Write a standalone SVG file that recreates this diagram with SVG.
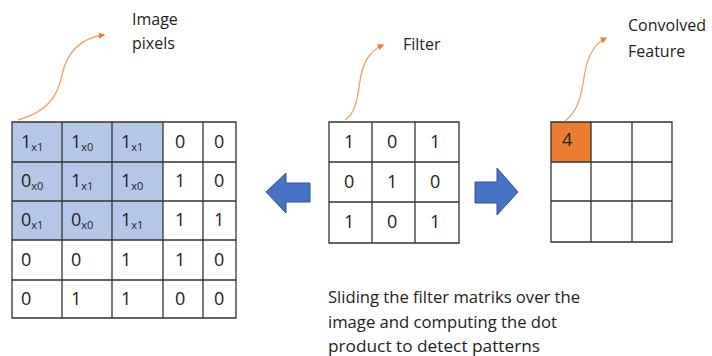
<svg xmlns="http://www.w3.org/2000/svg" width="712" height="356" viewBox="0 0 712 356">
<defs>
<marker id="oh" viewBox="0 0 10 10" refX="8" refY="5" markerWidth="5" markerHeight="5" orient="auto-start-reverse" markerUnits="strokeWidth">
<path d="M0,0 L10,5 L0,10 z" fill="#ed7d31"/>
</marker>
</defs>
<style>
text{font-family:"Open Sans","Liberation Sans",sans-serif;fill:#222}
.lbl{font-size:16px}
.num{font-size:18px}
.sub{font-size:11px}
.grid{fill:none;stroke:#333;stroke-width:1.3}
.hl{fill:#b4c7e7}
.conn{fill:none;stroke:#f4a06a;stroke-width:1.3;marker-end:url(#oh)}
.arr{fill:#4472c4;stroke:#2f5597;stroke-width:1}
</style>
<rect width="712" height="356" fill="#fff"/>

<g id="image-pixels">
<rect class="hl" x="12" y="122" width="151" height="118"/>
<path class="grid" d="M12,122H236V318H12Z M62,122V318 M112,122V318 M163,122V318 M203,122V318 M12,162H236 M12,201H236 M12,240H236 M12,280H236"/>
<text class="num" x="21" y="148">1<tspan class="sub" dy="3">x1</tspan></text>
<text class="num" x="71" y="148">1<tspan class="sub" dy="3">x0</tspan></text>
<text class="num" x="121" y="148">1<tspan class="sub" dy="3">x1</tspan></text>
<text class="num" x="175" y="148">0</text>
<text class="num" x="214" y="148">0</text>
<text class="num" x="21" y="187">0<tspan class="sub" dy="3">x0</tspan></text>
<text class="num" x="71" y="187">1<tspan class="sub" dy="3">x1</tspan></text>
<text class="num" x="121" y="187">1<tspan class="sub" dy="3">x0</tspan></text>
<text class="num" x="175" y="187">1</text>
<text class="num" x="214" y="187">0</text>
<text class="num" x="21" y="226">0<tspan class="sub" dy="3">x1</tspan></text>
<text class="num" x="71" y="226">0<tspan class="sub" dy="3">x0</tspan></text>
<text class="num" x="121" y="226">1<tspan class="sub" dy="3">x1</tspan></text>
<text class="num" x="175" y="226">1</text>
<text class="num" x="214" y="226">1</text>
<text class="num" x="21" y="266">0</text>
<text class="num" x="71" y="266">0</text>
<text class="num" x="121" y="266">1</text>
<text class="num" x="175" y="266">1</text>
<text class="num" x="214" y="266">0</text>
<text class="num" x="21" y="305">0</text>
<text class="num" x="71" y="305">1</text>
<text class="num" x="121" y="305">1</text>
<text class="num" x="175" y="305">0</text>
<text class="num" x="214" y="305">0</text>
<text class="lbl" x="132" y="25">Image</text>
<text class="lbl" x="132" y="49">pixels</text>
</g>

<g id="filter">
<path class="grid" d="M329,122H459V243H329Z M372,122V243 M415,122V243 M329,162H459 M329,202H459"/>
<text class="num" x="344" y="148">1</text>
<text class="num" x="387" y="148">0</text>
<text class="num" x="430" y="148">1</text>
<text class="num" x="344" y="188">0</text>
<text class="num" x="387" y="188">1</text>
<text class="num" x="430" y="188">0</text>
<text class="num" x="344" y="228">1</text>
<text class="num" x="387" y="228">0</text>
<text class="num" x="430" y="228">1</text>
<text class="lbl" x="403" y="50">Filter</text>
</g>

<g id="convolved-feature">
<rect x="551" y="122" width="40" height="40" fill="#ed7d31"/>
<path class="grid" d="M551,122H672V242H551Z M591,122V242 M632,122V242 M551,162H672 M551,201H672"/>
<text class="num" x="562" y="146">4</text>
<text class="lbl" x="628" y="31">Convolved</text>
<text class="lbl" x="628" y="57">Feature</text>
</g>

<g id="caption">
<text class="lbl" x="328" y="303" textLength="252" lengthAdjust="spacingAndGlyphs">Sliding the filter matriks over the</text>
<text class="lbl" x="328" y="328" textLength="229" lengthAdjust="spacingAndGlyphs">image and computing the dot</text>
<text class="lbl" x="328" y="352" textLength="212" lengthAdjust="spacingAndGlyphs">product to detect patterns</text>
</g>

<g id="connectors">
<path class="conn" d="M18,120 C48,112 58,95 62,75 C67,52 80,38 104,35"/>
<path class="conn" d="M345,120 C358,112 358,90 361,75 C365,58 372,50 383,45"/>
<path class="conn" d="M565,121 C580,110 582,90 585,72 C588,55 594,44 606,38"/>
<path class="arr" d="M310,183 H286 V173 L266,192 L286,213 V202 H310 Z"/>
<path class="arr" d="M475,182 H497 V168 L518,192 L497,215 V203 H475 Z"/>
</g>
</svg>
